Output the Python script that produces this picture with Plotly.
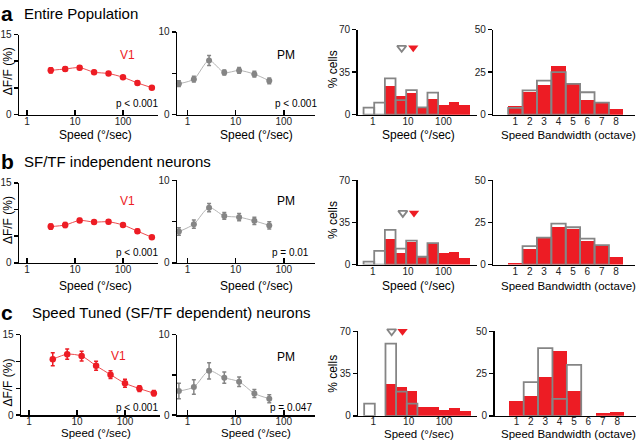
import numpy as np
import plotly.graph_objects as go

W, H = 640, 446

# ---------------- data ----------------
speeds_v1 = [3.125, 6.25, 12.5, 25, 50, 100, 200, 400]
speeds_pm = [0.66, 1.35, 2.8, 5.8, 11.8, 24.5, 50]

v1_a = [8.3, 8.55, 8.8, 7.95, 7.7, 7.0, 5.95, 5.05]
v1_a_err = [0.5, 0.4, 0.35, 0.3, 0.3, 0.3, 0.3, 0.3]
v1_b = [6.8, 7.1, 7.95, 7.65, 7.7, 7.1, 5.95, 4.8]
v1_b_err = [0.5, 0.45, 0.35, 0.3, 0.3, 0.3, 0.35, 0.3]
v1_c = [10.4, 11.35, 11.0, 9.2, 7.55, 5.95, 4.95, 4.1]
v1_c_err = [1.2, 0.95, 0.9, 0.85, 0.7, 0.75, 0.55, 0.5]

pm_a = [3.75, 4.3, 6.55, 5.1, 5.35, 4.9, 4.1]
pm_a_err = [0.35, 0.35, 0.6, 0.3, 0.35, 0.35, 0.35]
pm_b = [3.8, 4.7, 6.7, 5.7, 5.55, 5.1, 4.55]
pm_b_err = [0.45, 0.5, 0.5, 0.4, 0.45, 0.45, 0.45]
pm_c = [3.0, 3.5, 5.5, 4.65, 4.15, 2.7, 2.05]
pm_c_err = [0.95, 0.9, 1.0, 0.7, 0.6, 0.5, 0.5]

speed_bins = [0.78, 1.56, 3.125, 6.25, 12.5, 25, 50, 100, 200, 400]
hist_a_v1 = [0, 0, 23.5, 15.5, 18.2, 5.1, 12.6, 8.0, 10.4, 7.7]
hist_a_pm = [5.9, 9.9, 29.9, 12.0, 20.3, 6.1, 18.2, 0, 0, 0]
hist_b_v1 = [0, 0, 21.4, 9.5, 18.9, 5.9, 17.8, 9.5, 10.3, 5.7]
hist_b_pm = [2.4, 11.4, 28.9, 13.2, 20.0, 6.5, 17.8, 0, 0, 0]
hist_c_v1 = [0, 0, 26.4, 24.3, 20.6, 7.5, 7.5, 5.1, 6.2, 4.0]
hist_c_pm = [10.2, 0, 59.8, 20.0, 10.2, 0, 0, 0, 0, 0]

median_pm = [6.6, 7.1, 3.3]
median_v1 = [14.0, 14.7, 6.7]
median_mark_y = [55, 43, 70]

bw_octaves = [1, 2, 3, 4, 5, 6, 7, 8]
bw_a_v1 = [5.3, 13.2, 17.6, 28.6, 18.1, 8.8, 6.7, 3.4]
bw_a_pm = [4.0, 14.3, 20.0, 25.0, 18.1, 13.2, 7.1, 0]
bw_b_v1 = [1.0, 9.5, 15.8, 22.4, 21.2, 13.9, 10.8, 4.2]
bw_b_pm = [0, 11.0, 16.0, 24.3, 22.2, 15.4, 11.6, 0]
bw_c_v1 = [8.6, 12.0, 22.9, 38.5, 14.7, 0, 1.5, 2.5]
bw_c_pm = [0, 20.0, 40.0, 10.0, 30.2, 0, 0, 0]

panel_letters = ["a", "b", "c"]
panel_titles = ["Entire Population", "SF/TF independent neurons",
                "Speed Tuned (SF/TF dependent) neurons"]
pm_pvals = ["p < 0.001", "p = 0.01", "p = 0.047"]
v1_pvals = ["p < 0.001", "p < 0.001", "p < 0.001"]

# ---------------- styling ----------------
RED = "#ED1C24"
RED_LINE = "#EE4B4F"
GRAY = "#858585"
GRAY_LINE = "#B4B4B4"
FONT = "Liberation Sans, Arial, Helvetica, sans-serif"

def fx(p):
    return p / W

def fy(p):
    return 1 - p / H

# pixel geometry: x domains per column, y (top,bottom) per row/col
xdom = [[(19, 158), (177, 315), (357.7, 476.7), (493.3, 635)],
        [(19, 158), (177, 315), (357.7, 476.7), (493.3, 635)],
        [(21, 160), (177, 315), (358.3, 477.3), (494.5, 636)]]
ydom = [[(29.3, 111.7), (26.7, 111.7), (24.3, 111.7), (24.3, 111.7)],
        [(181.7, 264), (179.3, 264), (179.3, 265.7), (179.3, 265.7)],
        [(337.7, 420.5), (337.7, 420.5), (334.3, 421.2), (334.3, 421.2)]]
label_standoff = [-3, -3, -4]

v1_rows = [(v1_a, v1_a_err), (v1_b, v1_b_err), (v1_c, v1_c_err)]
pm_rows = [(pm_a, pm_a_err), (pm_b, pm_b_err), (pm_c, pm_c_err)]
hist_rows = [(hist_a_v1, hist_a_pm), (hist_b_v1, hist_b_pm), (hist_c_v1, hist_c_pm)]
bw_rows = [(bw_a_v1, bw_a_pm), (bw_b_v1, bw_b_pm), (bw_c_v1, bw_c_pm)]

fig = go.Figure()
layout = {}
annotations = []

def axname(k):
    return "" if k == 1 else str(k)

def nz(vals):
    return [v if v > 0 else None for v in vals]

tick_font = dict(family=FONT, size=10, color="#222")
base_axis = dict(showgrid=False, zeroline=False, showline=True, linecolor="black",
                 linewidth=1.5, tickfont=tick_font, fixedrange=True, tickcolor="black")

log_bins = np.log10(speed_bins)
bin_w = np.log10(2)

for r in range(3):
    for c in range(4):
        k = r * 4 + c + 1
        xa = dict(base_axis, domain=[fx(xdom[r][c][0]), fx(xdom[r][c][1])], anchor="y" + axname(k),
                  ticklabelstandoff=label_standoff[r])
        ya = dict(base_axis, domain=[fy(ydom[r][c][1]), fy(ydom[r][c][0])], anchor="x" + axname(k),
                  ticks="outside", ticklen=4, tickwidth=1.5)
        if c == 0:
            xa.update(type="log", range=[-0.167, 2.73], tickvals=[1, 10, 100],
                      ticktext=["1", "10", "100"], ticks="inside", ticklen=5, tickwidth=1.5)
            ya.update(range=[0, 15], tickvals=[0, 5, 10, 15], ticktext=["0", "", "", "15"])
        elif c == 1:
            xa.update(type="log", range=[-0.22, 2.65], tickvals=[1, 10, 100],
                      ticktext=["1", "10", "100"], ticks="inside", ticklen=5, tickwidth=1.5)
            ya.update(range=[0, 10], tickvals=[0, 5, 10], ticktext=["0", "", "10"])
        elif c == 2:
            xa.update(range=[-0.424, 2.94], tickvals=[0, 1, 2], ticktext=["1", "10", "100"], ticks="")
            ya.update(range=[0, 70], tickvals=[0, 35, 70], ticktext=["0", "35", "70"])
        else:
            xa.update(range=[-0.53, 9.31], tickvals=bw_octaves,
                      ticktext=[str(o) for o in bw_octaves], ticks="")
            ya.update(range=[0, 50], tickvals=[0, 25, 50], ticktext=["0", "25", "50"])
        layout["xaxis" + axname(k)] = xa
        layout["yaxis" + axname(k)] = ya

    # V1 tuning
    k = r * 4 + 1
    vals, errs = v1_rows[r]
    fig.add_trace(go.Scatter(
        x=speeds_v1, y=vals, mode="lines+markers",
        line=dict(color=RED_LINE, width=1, shape="spline", smoothing=0.8),
        marker=dict(color=RED, size=6.5),
        error_y=dict(type="data", array=errs, color=RED, thickness=1.5, width=2),
        xaxis="x" + axname(k), yaxis="y" + axname(k), showlegend=False, cliponaxis=False))
    # PM tuning
    k = r * 4 + 2
    vals, errs = pm_rows[r]
    fig.add_trace(go.Scatter(
        x=speeds_pm, y=vals, mode="lines+markers",
        line=dict(color=GRAY_LINE, width=1, shape="spline", smoothing=0.8),
        marker=dict(color=GRAY, size=6),
        error_y=dict(type="data", array=errs, color=GRAY, thickness=1.5, width=2),
        xaxis="x" + axname(k), yaxis="y" + axname(k), showlegend=False, cliponaxis=False))
    # speed histogram
    k = r * 4 + 3
    hv1, hpm = hist_rows[r]
    fig.add_trace(go.Bar(x=log_bins, y=nz(hv1), width=bin_w,
                         marker=dict(color=RED, line=dict(width=0)),
                         xaxis="x" + axname(k), yaxis="y" + axname(k), showlegend=False))
    fig.add_trace(go.Bar(x=log_bins, y=nz(hpm), width=bin_w,
                         marker=dict(color="rgba(0,0,0,0)", line=dict(color=GRAY, width=1.8)),
                         xaxis="x" + axname(k), yaxis="y" + axname(k), showlegend=False))
    fig.add_trace(go.Scatter(x=[np.log10(median_pm[r])], y=[median_mark_y[r]], mode="markers",
                             marker=dict(symbol="triangle-down-open", size=8, color=GRAY,
                                         line=dict(width=1.8, color=GRAY)),
                             xaxis="x" + axname(k), yaxis="y" + axname(k), showlegend=False,
                             cliponaxis=False))
    fig.add_trace(go.Scatter(x=[np.log10(median_v1[r])], y=[median_mark_y[r]], mode="markers",
                             marker=dict(symbol="triangle-down", size=9, color=RED,
                                         line=dict(width=0)),
                             xaxis="x" + axname(k), yaxis="y" + axname(k), showlegend=False,
                             cliponaxis=False))
    # bandwidth histogram
    k = r * 4 + 4
    bv1, bpm = bw_rows[r]
    fig.add_trace(go.Bar(x=bw_octaves, y=nz(bv1), width=1,
                         marker=dict(color=RED, line=dict(width=0)),
                         xaxis="x" + axname(k), yaxis="y" + axname(k), showlegend=False))
    fig.add_trace(go.Bar(x=bw_octaves, y=nz(bpm), width=1,
                         marker=dict(color="rgba(0,0,0,0)", line=dict(color=GRAY, width=1.8)),
                         xaxis="x" + axname(k), yaxis="y" + axname(k), showlegend=False))

def ann(text, x, y, size=12, color="black", xanchor="center", angle=0, bold=False):
    annotations.append(dict(text=("<b>%s</b>" % text) if bold else text,
                            x=fx(x), y=fy(y), xref="paper", yref="paper",
                            xanchor=xanchor, yanchor="middle", showarrow=False,
                            textangle=angle, font=dict(family=FONT, size=size, color=color)))

title_y = [8, 160, 315]
title_x = [22, 22, 30]
xtitle_y = [[132.5, 132.5, 132.5, 132.5], [287.5, 287.5, 287.5, 287.5], [439.3, 439.3, 439.8, 439.8]]
xtitle_size = [12, 12, 11.5]
ylab_y = [[67, 65], [220, 220], [387, 378]]
v1_lab = [(127.7, 50), (127.7, 200), (118.8, 360)]
pm_lab = [(285.5, 50), (285.5, 200), (285.8, 360.7)]
pv_y = [100, 253.3, 413]
pm_pv_x = [296.3, 290.5, 290.5]

for r in range(3):
    ann(panel_letters[r], -1, title_y[r], size=21, xanchor="left", bold=True)
    ann(panel_titles[r], title_x[r], title_y[r], size=15, xanchor="left")
    ann("Speed (°/sec)", 95.8, xtitle_y[r][0], size=xtitle_size[r])
    ann("Speed (°/sec)", 256, xtitle_y[r][1], size=xtitle_size[r])
    ann("Speed (°/sec)", 418.8, xtitle_y[r][2], size=xtitle_size[r])
    ann("Speed Bandwidth (octave)", 568.3, xtitle_y[r][3], size=11.5)
    ann("ΔF/F (%)", 8, ylab_y[r][0], size=12, angle=-90)
    ann("% cells", 333, ylab_y[r][1], size=12, angle=-90)
    ann("V1", v1_lab[r][0], v1_lab[r][1], size=12, color=RED)
    ann("PM", pm_lab[r][0], pm_lab[r][1], size=12)
    ann(v1_pvals[r], 137, pv_y[r], size=10)
    ann(pm_pvals[r], pm_pv_x[r], pv_y[r], size=10)

layout.update(width=W, height=H, margin=dict(l=0, r=0, t=0, b=0),
              paper_bgcolor="white", plot_bgcolor="white", barmode="overlay",
              bargap=0, annotations=annotations, showlegend=False, hovermode=False,
              font=dict(family=FONT, size=10, color="black"))
fig.update_layout(**layout)
fig.write_html("out.html", config={"displayModeBar": False, "staticPlot": True},
               post_script="document.body.style.margin='0px';document.body.style.overflow='hidden';")
